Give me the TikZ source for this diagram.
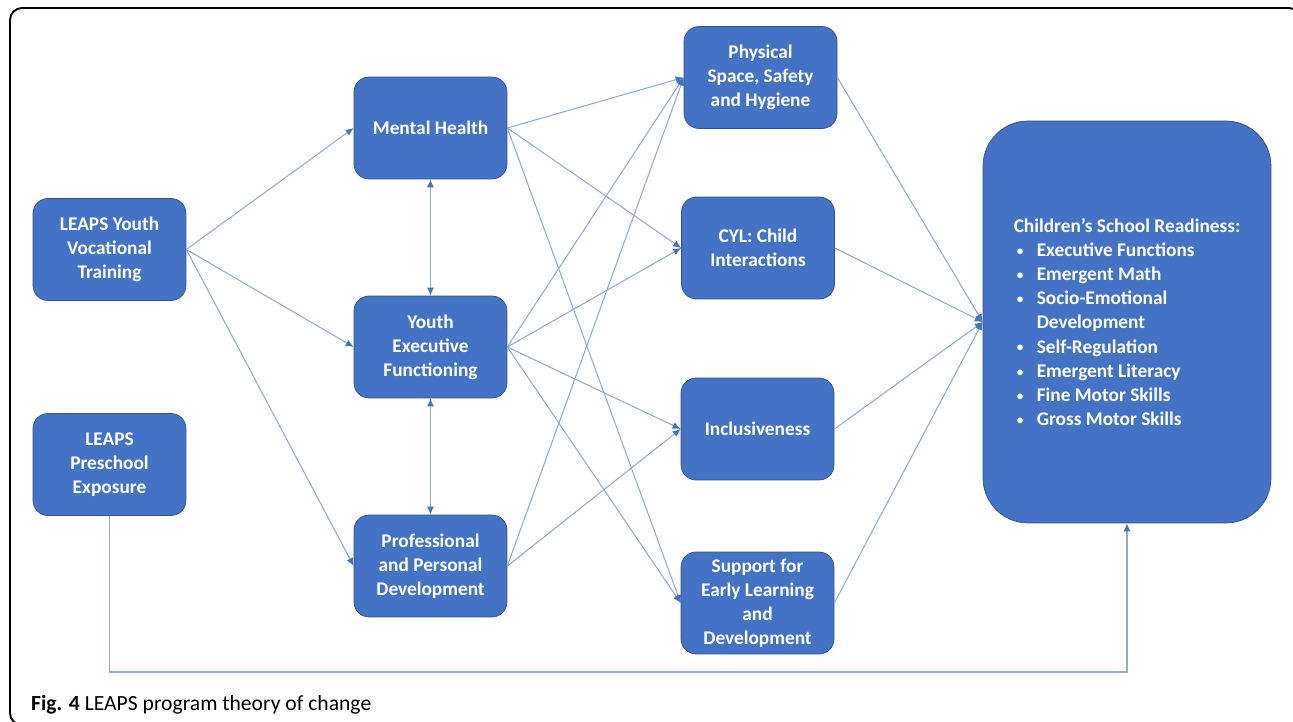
\documentclass[tikz,border=0pt]{standalone}
\usepackage{fontspec}
\setmainfont{Carlito}
\usetikzlibrary{arrows.meta}
\definecolor{boxblue}{HTML}{4472C4}
\definecolor{edgeblue}{HTML}{2F528F}
\definecolor{lineblue}{HTML}{8FAADC}
\newcommand{\itm}{\makebox[0.46cm][l]{\hspace{0.06cm}\raisebox{0.6pt}{\fontsize{7.5}{7.5}\selectfont\textbullet}}}
\begin{document}
\begin{tikzpicture}[x=0.02cm,y=-0.02cm,
	box/.style={draw=edgeblue, line width=0.4pt, fill=boxblue, rounded corners=0.3cm,
		minimum width=3.06cm, minimum height=2.04cm, inner sep=1pt,
		text=white, align=center, font=\fontsize{11}{13.7}\selectfont\bfseries},
	bigbox/.style={box, rounded corners=0.9cm, minimum width=5.76cm, minimum height=8.04cm, align=left},
	conn/.style={draw=lineblue, line width=0.6pt, -{Latex[length=0.16cm,width=0.14cm,color=boxblue]}},
	twoway/.style={conn, {Latex[length=0.16cm,width=0.14cm,color=boxblue]}-{Latex[length=0.16cm,width=0.14cm,color=boxblue]}}]
	\useasboundingbox (0,0) rectangle (1293,722);
	\begin{scope}
		\clip (0,0) rectangle (1293,722);
		\draw[black, line width=1.1pt, rounded corners=0.24cm] (10,8) rectangle (1301,725);
	\end{scope}
	
	% left column
	\node[box] (yvt) at (109.5,249.5) {LEAPS Youth\\Vocational\\Training};
	\node[box] (pse) at (109.5,464.5) {LEAPS\\Preschool\\Exposure};
	
	% youth outcomes
	\node[box] (mh) at (430.5,128) {Mental Health};
	\node[box] (yef) at (430.5,347) {Youth\\Executive\\Functioning};
	\node[box] (ppd) at (430.5,566) {Professional\\and Personal\\Development};
	
	% preschool quality
	\node[box] (phys) at (760.5,77.5) {Physical\\Space, Safety\\and Hygiene};
	\node[box] (cyl) at (758,248) {CYL: Child\\Interactions};
	\node[box] (incl) at (757.5,429) {Inclusiveness};
	\node[box] (sup) at (757.5,603) {Support for\\Early Learning\\and\\Development};
	
	% child outcomes
	\node[bigbox] (csr) at (1127,322) {Children’s School Readiness:\\
		\itm Executive Functions\\
		\itm Emergent Math\\
		\itm Socio-Emotional\\
		\hspace*{0.46cm}Development\\
		\itm Self-Regulation\\
		\itm Emergent Literacy\\
		\itm Fine Motor Skills\\
		\itm Gross Motor Skills};
	
	\draw[conn] (yvt.east) -- (mh.west);
	\draw[conn] (yvt.east) -- (yef.west);
	\draw[conn] (yvt.east) -- (ppd.west);
	
	\draw[twoway] (mh.south) -- (yef.north);
	\draw[twoway] (yef.south) -- (ppd.north);
	
	\draw[conn] (mh.east) -- (phys.west);
	\draw[conn] (mh.east) -- (cyl.west);
	\draw[conn] (mh.east) -- (sup.west);
	\draw[conn] (yef.east) -- (phys.west);
	\draw[conn] (yef.east) -- (cyl.west);
	\draw[conn] (yef.east) -- (incl.west);
	\draw[conn] (yef.east) -- (sup.west);
	\draw[conn] (ppd.east) -- (phys.west);
	\draw[conn] (ppd.east) -- (incl.west);
	
	\draw[conn] (phys.east) -- (csr.west);
	\draw[conn] (cyl.east) -- (csr.west);
	\draw[conn] (incl.east) -- (csr.west);
	\draw[conn] (sup.east) -- (csr.west);
	
	\coordinate (low) at (0,672);
	\draw[conn] (pse.south) -- (pse.south |- low) -| (csr.south);
	
	\node[anchor=base west, font=\fontsize{12.3}{14}\selectfont] (cap) at (25,710) {\textbf{Fig. 4} LEAPS program theory of change};
\end{tikzpicture}
\end{document}
